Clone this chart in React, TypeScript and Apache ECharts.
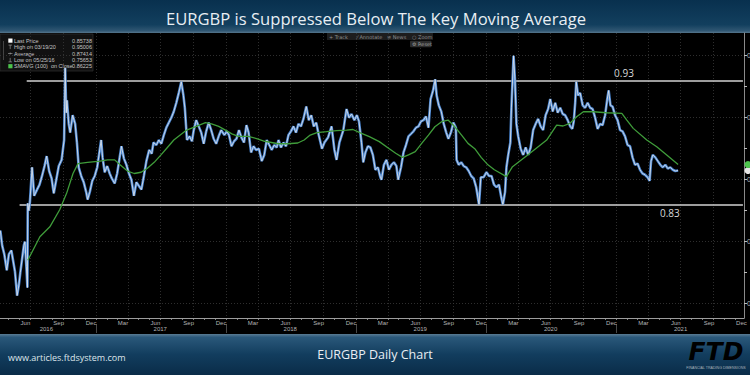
import React, { useEffect, useRef } from "react";
import * as echarts from "echarts";

const TITLE = "EURGBP is Suppressed Below The Key Moving Average";
const SUBTITLE = "EURGBP Daily Chart";
const SITE = "www.articles.ftdsystem.com";

const AXIS_START = "2016-04-07";
const AXIS_END = "2021-12-26";
const Y_MIN = 0.73847;
const Y_MAX = 0.96831;

const MONTHS = ["Jan", "Feb", "Mar", "Apr", "May", "Jun", "Jul", "Aug", "Sep", "Oct", "Nov", "Dec"];
const LABEL_MONTHS = ["03", "06", "09", "12"];
const GRID_MONTHS = ["01", "04", "07", "10"];
const YEAR_LABEL_DATES = ["2016-08-15", "2017-07-01", "2018-07-01", "2019-07-01", "2020-07-01", "2021-07-01"];
const Y_TICKS = [0.75, 0.775, 0.8, 0.825, 0.85, 0.875, 0.9, 0.925, 0.95];
const Y_LABELS = [0.75, 0.8, 0.85, 0.9, 0.95];

const LEVEL_HIGH = 0.93;
const LEVEL_LOW = 0.83;
const LEVEL_HIGH_START = "2016-06-21";
const LEVEL_LOW_START = "2016-06-01";
const LEVEL_END = "2021-12-23";
const LEVEL_HIGH_LABEL_AT = "2021-01-23";
const LEVEL_LOW_LABEL_AT = "2021-06-01";

const LAST_PRICE = 0.85738;
const LAST_SMA = 0.86225;

const LEGEND_ROWS = [
  { label: "Last Price", value: "0.85738", icon: "box", color: "#ffffff" },
  { label: "High on 03/19/20", value: "0.95006", icon: "high", color: "#bbbbbb" },
  { label: "Average", value: "0.87414", icon: "avg", color: "#bbbbbb" },
  { label: "Low on 05/25/16", value: "0.75653", icon: "low", color: "#bbbbbb" },
  { label: "SMAVG (100)  on Close", value: "0.86225", icon: "box", color: "#4cc34c" },
];

const TOOLBAR = ["+ Track", "\u2044 Annotate", "\u2261 News", "\u25cb Zoom"];

const price2016: [string, number][] = [
  ["2016-04-08", 0.809], ["2016-04-13", 0.797], ["2016-04-19", 0.79], ["2016-04-26", 0.777],
  ["2016-05-02", 0.79], ["2016-05-09", 0.793], ["2016-05-13", 0.786], ["2016-05-19", 0.776],
  ["2016-05-25", 0.7565], ["2016-05-30", 0.765], ["2016-06-03", 0.775], ["2016-06-08", 0.786],
  ["2016-06-13", 0.797], ["2016-06-16", 0.8], ["2016-06-20", 0.78], ["2016-06-23", 0.763],
  ["2016-06-24", 0.831], ["2016-06-27", 0.825], ["2016-06-30", 0.832], ["2016-07-06", 0.86],
  ["2016-07-12", 0.837], ["2016-07-20", 0.842], ["2016-07-27", 0.846], ["2016-08-03", 0.853],
  ["2016-08-10", 0.861], ["2016-08-16", 0.869], ["2016-08-23", 0.857], ["2016-08-30", 0.851],
  ["2016-09-05", 0.839], ["2016-09-12", 0.85], ["2016-09-19", 0.861], ["2016-09-27", 0.866],
  ["2016-10-04", 0.882], ["2016-10-07", 0.94], ["2016-10-10", 0.904], ["2016-10-12", 0.914],
  ["2016-10-17", 0.895], ["2016-10-21", 0.888], ["2016-10-28", 0.902], ["2016-11-04", 0.895],
  ["2016-11-09", 0.88], ["2016-11-14", 0.86], ["2016-11-21", 0.853], ["2016-11-28", 0.848],
  ["2016-12-05", 0.84], ["2016-12-09", 0.834], ["2016-12-15", 0.84], ["2016-12-22", 0.849],
  ["2016-12-29", 0.853],
];
const price2017: [string, number][] = [
  ["2017-01-05", 0.86], ["2017-01-10", 0.87], ["2017-01-16", 0.882], ["2017-01-20", 0.868],
  ["2017-01-26", 0.856], ["2017-02-02", 0.861], ["2017-02-09", 0.855], ["2017-02-15", 0.851],
  ["2017-02-23", 0.847], ["2017-03-02", 0.855], ["2017-03-09", 0.868], ["2017-03-14", 0.877],
  ["2017-03-21", 0.867], ["2017-03-28", 0.862], ["2017-04-04", 0.855], ["2017-04-11", 0.85],
  ["2017-04-18", 0.837], ["2017-04-25", 0.848], ["2017-05-02", 0.845], ["2017-05-09", 0.842],
  ["2017-05-16", 0.853], ["2017-05-23", 0.865], ["2017-05-31", 0.874], ["2017-06-07", 0.871],
  ["2017-06-12", 0.88], ["2017-06-20", 0.878], ["2017-06-27", 0.882], ["2017-07-04", 0.879],
  ["2017-07-11", 0.886], ["2017-07-18", 0.892], ["2017-07-25", 0.896], ["2017-08-01", 0.9],
  ["2017-08-08", 0.905], ["2017-08-15", 0.912], ["2017-08-22", 0.92], ["2017-08-29", 0.929],
  ["2017-09-04", 0.918], ["2017-09-08", 0.908], ["2017-09-14", 0.882], ["2017-09-21", 0.885],
  ["2017-09-28", 0.881], ["2017-10-03", 0.89], ["2017-10-10", 0.898], ["2017-10-17", 0.893],
  ["2017-10-24", 0.888], ["2017-10-31", 0.879], ["2017-11-07", 0.889], ["2017-11-14", 0.896],
  ["2017-11-21", 0.89], ["2017-11-28", 0.883], ["2017-12-05", 0.879], ["2017-12-12", 0.885],
  ["2017-12-19", 0.89], ["2017-12-28", 0.886],
];
const price2018: [string, number][] = [
  ["2018-01-04", 0.889], ["2018-01-10", 0.886], ["2018-01-17", 0.877], ["2018-01-24", 0.881],
  ["2018-01-31", 0.883], ["2018-02-07", 0.89], ["2018-02-14", 0.884], ["2018-02-21", 0.88],
  ["2018-02-28", 0.894], ["2018-03-06", 0.888], ["2018-03-13", 0.872], ["2018-03-20", 0.877],
  ["2018-03-27", 0.874], ["2018-04-04", 0.875], ["2018-04-12", 0.865], ["2018-04-19", 0.87],
  ["2018-04-26", 0.882], ["2018-05-03", 0.878], ["2018-05-10", 0.874], ["2018-05-17", 0.878],
  ["2018-05-24", 0.876], ["2018-05-29", 0.882], ["2018-06-05", 0.876], ["2018-06-12", 0.88],
  ["2018-06-19", 0.877], ["2018-06-26", 0.886], ["2018-07-03", 0.889], ["2018-07-10", 0.893],
  ["2018-07-17", 0.888], ["2018-07-24", 0.895], ["2018-07-31", 0.893], ["2018-08-07", 0.899],
  ["2018-08-15", 0.909], ["2018-08-22", 0.898], ["2018-08-29", 0.902], ["2018-09-05", 0.893],
  ["2018-09-12", 0.896], ["2018-09-19", 0.886], ["2018-09-28", 0.875], ["2018-10-05", 0.88],
  ["2018-10-15", 0.884], ["2018-10-25", 0.893], ["2018-11-02", 0.874], ["2018-11-08", 0.866],
  ["2018-11-16", 0.88], ["2018-11-27", 0.89], ["2018-12-06", 0.907], ["2018-12-13", 0.9],
  ["2018-12-20", 0.903], ["2018-12-28", 0.898],
];
const price2019: [string, number][] = [
  ["2019-01-04", 0.902], ["2019-01-10", 0.897], ["2019-01-17", 0.88], ["2019-01-22", 0.864],
  ["2019-01-28", 0.872], ["2019-02-04", 0.877], ["2019-02-11", 0.876], ["2019-02-18", 0.87],
  ["2019-02-25", 0.858], ["2019-03-04", 0.86], ["2019-03-11", 0.852], ["2019-03-14", 0.85],
  ["2019-03-21", 0.862], ["2019-03-28", 0.866], ["2019-04-04", 0.858], ["2019-04-11", 0.862],
  ["2019-04-18", 0.864], ["2019-04-25", 0.861], ["2019-04-30", 0.85], ["2019-05-08", 0.86],
  ["2019-05-15", 0.872], ["2019-05-22", 0.878], ["2019-05-29", 0.885], ["2019-06-05", 0.887],
  ["2019-06-12", 0.889], ["2019-06-19", 0.892], ["2019-06-26", 0.893], ["2019-07-03", 0.897],
  ["2019-07-10", 0.898], ["2019-07-17", 0.901], ["2019-07-24", 0.892], ["2019-07-30", 0.915],
  ["2019-08-06", 0.922], ["2019-08-12", 0.931], ["2019-08-16", 0.918], ["2019-08-22", 0.91],
  ["2019-08-29", 0.905], ["2019-09-05", 0.895], ["2019-09-12", 0.888], ["2019-09-18", 0.883],
  ["2019-09-25", 0.888], ["2019-10-02", 0.896], ["2019-10-09", 0.892], ["2019-10-11", 0.866],
  ["2019-10-17", 0.862], ["2019-10-24", 0.864], ["2019-10-31", 0.861], ["2019-11-07", 0.86],
  ["2019-11-14", 0.857], ["2019-11-21", 0.853], ["2019-11-28", 0.851], ["2019-12-05", 0.844],
  ["2019-12-13", 0.83], ["2019-12-18", 0.852], ["2019-12-26", 0.852],
];
const price2020: [string, number][] = [
  ["2020-01-03", 0.856], ["2020-01-10", 0.853], ["2020-01-17", 0.853], ["2020-01-24", 0.846],
  ["2020-01-31", 0.844], ["2020-02-07", 0.846], ["2020-02-14", 0.835], ["2020-02-18", 0.83],
  ["2020-02-24", 0.84], ["2020-02-28", 0.86], ["2020-03-04", 0.87], ["2020-03-10", 0.88],
  ["2020-03-13", 0.908], ["2020-03-19", 0.95], ["2020-03-23", 0.93], ["2020-03-27", 0.895],
  ["2020-04-01", 0.885], ["2020-04-08", 0.875], ["2020-04-15", 0.87], ["2020-04-22", 0.876],
  ["2020-04-29", 0.87], ["2020-05-06", 0.876], ["2020-05-13", 0.89], ["2020-05-20", 0.895],
  ["2020-05-27", 0.899], ["2020-06-03", 0.893], ["2020-06-10", 0.89], ["2020-06-17", 0.902],
  ["2020-06-24", 0.907], ["2020-06-30", 0.915], ["2020-07-07", 0.905], ["2020-07-14", 0.912],
  ["2020-07-21", 0.904], ["2020-07-28", 0.908], ["2020-08-04", 0.903], ["2020-08-11", 0.902],
  ["2020-08-18", 0.898], ["2020-08-25", 0.893], ["2020-08-31", 0.891], ["2020-09-04", 0.897],
  ["2020-09-08", 0.912], ["2020-09-11", 0.929], ["2020-09-16", 0.918], ["2020-09-22", 0.92],
  ["2020-09-29", 0.91], ["2020-10-06", 0.908], ["2020-10-13", 0.912], ["2020-10-20", 0.908],
  ["2020-10-27", 0.907], ["2020-11-03", 0.9], ["2020-11-10", 0.891], ["2020-11-17", 0.895],
  ["2020-11-24", 0.894], ["2020-12-01", 0.902], ["2020-12-07", 0.915], ["2020-12-11", 0.922],
  ["2020-12-16", 0.91], ["2020-12-22", 0.909], ["2020-12-29", 0.902],
];
const price2021: [string, number][] = [
  ["2021-01-05", 0.898], ["2021-01-12", 0.89], ["2021-01-19", 0.889], ["2021-01-26", 0.885],
  ["2021-02-02", 0.878], ["2021-02-09", 0.877], ["2021-02-16", 0.868], ["2021-02-23", 0.862],
  ["2021-03-02", 0.863], ["2021-03-09", 0.858], ["2021-03-16", 0.855], ["2021-03-23", 0.854],
  ["2021-03-30", 0.852], ["2021-04-05", 0.849], ["2021-04-09", 0.865], ["2021-04-14", 0.87],
  ["2021-04-21", 0.868], ["2021-04-28", 0.865], ["2021-05-05", 0.862], ["2021-05-12", 0.86],
  ["2021-05-19", 0.862], ["2021-05-26", 0.859], ["2021-06-02", 0.86], ["2021-06-09", 0.858],
  ["2021-06-16", 0.857], ["2021-06-24", 0.85738],
];

const smaData: [string, number][] = [
  ["2016-06-24", 0.785], ["2016-07-28", 0.804], ["2016-08-25", 0.812], ["2016-09-22", 0.826],
  ["2016-10-11", 0.839], ["2016-10-29", 0.855], ["2016-11-12", 0.863], ["2016-12-09", 0.864],
  ["2017-01-13", 0.865], ["2017-02-03", 0.866], ["2017-02-23", 0.866], ["2017-03-10", 0.862],
  ["2017-03-31", 0.857], ["2017-04-19", 0.855], ["2017-05-08", 0.856], ["2017-05-25", 0.859],
  ["2017-06-14", 0.864], ["2017-07-03", 0.87], ["2017-07-21", 0.876], ["2017-08-08", 0.882],
  ["2017-08-26", 0.886], ["2017-09-13", 0.89], ["2017-10-10", 0.893], ["2017-11-05", 0.896],
  ["2017-11-22", 0.895], ["2017-12-12", 0.893], ["2017-12-31", 0.89], ["2018-01-18", 0.887],
  ["2018-02-05", 0.885], ["2018-03-05", 0.885], ["2018-03-31", 0.883], ["2018-04-20", 0.881],
  ["2018-05-28", 0.879], ["2018-06-24", 0.879], ["2018-07-22", 0.8796], ["2018-08-09", 0.882],
  ["2018-08-26", 0.886], ["2018-09-14", 0.888], ["2018-10-11", 0.8887], ["2018-11-08", 0.8895],
  ["2018-12-06", 0.89], ["2018-12-24", 0.8905], ["2019-01-12", 0.888], ["2019-02-08", 0.8847],
  ["2019-03-08", 0.8807], ["2019-04-03", 0.8753], ["2019-04-23", 0.8713], ["2019-05-12", 0.868],
  ["2019-05-29", 0.87], ["2019-06-17", 0.8726], ["2019-07-05", 0.8793], ["2019-07-24", 0.886],
  ["2019-08-11", 0.8927], ["2019-08-30", 0.8968], ["2019-09-17", 0.8981], ["2019-10-06", 0.8927],
  ["2019-10-25", 0.886], ["2019-11-12", 0.8793], ["2019-12-01", 0.875], ["2019-12-19", 0.868],
  ["2020-01-07", 0.862], ["2020-01-25", 0.858], ["2020-02-28", 0.8525], ["2020-03-16", 0.8605],
  ["2020-05-04", 0.8713], ["2020-06-20", 0.882], ["2020-07-18", 0.894], ["2020-08-05", 0.8933],
  ["2020-08-24", 0.8954], ["2020-09-12", 0.9008], ["2020-10-01", 0.9048], ["2020-10-29", 0.9048],
  ["2020-12-05", 0.904], ["2021-01-17", 0.9035], ["2021-01-31", 0.8981], ["2021-02-18", 0.8914],
  ["2021-03-28", 0.882], ["2021-04-25", 0.8766], ["2021-05-23", 0.87], ["2021-06-24", 0.86225],
];

const priceData = [...price2016, ...price2017, ...price2018, ...price2019, ...price2020, ...price2021];

function buildCategories(start: string, end: string): string[] {
  const out: string[] = [];
  const s = Date.parse(start + "T00:00:00Z");
  const e = Date.parse(end + "T00:00:00Z");
  for (let t = s; t <= e; t += 86400000) out.push(new Date(t).toISOString().slice(0, 10));
  return out;
}

const FONT = "Liberation Sans";

export default function App() {
  const ref = useRef<HTMLDivElement>(null);
  useEffect(() => {
    document.body.style.margin = "0";
    if (!ref.current) return;
    const chart = echarts.init(ref.current, null, { renderer: "svg" });
    const cats = buildCategories(AXIS_START, AXIS_END);

    const legendEls: any[] = [
      { type: "rect", shape: { x: 0, y: 34, width: 93, height: 37 }, style: { fill: "rgba(18,18,18,0.95)", stroke: "#2c2c2c", lineWidth: 0.8 } },
      { type: "line", shape: { x1: 3.5, y1: 41, x2: 3.5, y2: 60 }, style: { stroke: "#666", lineWidth: 0.6 } },
    ];
    LEGEND_ROWS.forEach((r, i) => {
      const y = 40.7 + i * 6.4;
      if (r.icon === "box") {
        legendEls.push({ type: "rect", shape: { x: 8.3, y: y - 2.2, width: 4.2, height: 4.2 }, style: { fill: r.color } });
      } else if (r.icon === "high") {
        legendEls.push({ type: "line", shape: { x1: 8.5, y1: y - 2, x2: 12, y2: y - 2 }, style: { stroke: "#aaa", lineWidth: 0.6 } });
        legendEls.push({ type: "line", shape: { x1: 10.2, y1: y - 2, x2: 10.2, y2: y + 2 }, style: { stroke: "#aaa", lineWidth: 0.6 } });
      } else if (r.icon === "avg") {
        legendEls.push({ type: "line", shape: { x1: 8, y1: y, x2: 12.5, y2: y }, style: { stroke: "#aaa", lineWidth: 0.6 } });
        legendEls.push({ type: "line", shape: { x1: 10.2, y1: y - 1, x2: 10.2, y2: y + 1 }, style: { stroke: "#aaa", lineWidth: 0.6 } });
      } else {
        legendEls.push({ type: "line", shape: { x1: 8.5, y1: y + 2, x2: 12, y2: y + 2 }, style: { stroke: "#aaa", lineWidth: 0.6 } });
        legendEls.push({ type: "line", shape: { x1: 10.2, y1: y - 2, x2: 10.2, y2: y + 2 }, style: { stroke: "#aaa", lineWidth: 0.6 } });
      }
      legendEls.push({ type: "text", style: { x: 14, y, text: r.label, fill: "#c4c4c4", fontSize: 5.5, fontFamily: FONT, verticalAlign: "middle" } });
      legendEls.push({ type: "text", style: { x: 92, y, text: r.value, fill: "#c4c4c4", fontSize: 5.5, fontFamily: FONT, align: "right", verticalAlign: "middle" } });
    });

    const toolbarEls: any[] = [
      { type: "rect", shape: { x: 327, y: 33, width: 106, height: 7 }, style: { fill: "#1d1d1d" } },
      { type: "rect", shape: { x: 410, y: 40.8, width: 21.5, height: 6.4, r: 1 }, style: { fill: "#2d2d2d" } },
      { type: "text", style: { x: 412, y: 44, text: "\u2699 Reset", fill: "#a0a0a0", fontSize: 5, fontFamily: "DejaVu Sans", verticalAlign: "middle" } },
    ];
    const tbX = [329, 357, 387, 412];
    TOOLBAR.forEach((t, i) => {
      toolbarEls.push({ type: "text", style: { x: tbX[i], y: 36.6, text: t, fill: "#909090", fontSize: 5, fontFamily: "DejaVu Sans", verticalAlign: "middle" } });
    });

    const option: any = {
      animation: false,
      backgroundColor: "#000000",
      grid: { left: 0, right: 6, top: 33, bottom: 57, containLabel: false, outerBoundsMode: "none" },
      xAxis: [
        {
          type: "category",
          data: cats,
          boundaryGap: false,
          position: "bottom",
          axisLine: { show: true, lineStyle: { color: "#9c9c9c", width: 1 } },
          axisTick: {
            show: true,
            interval: (_i: number, v: string) => v.endsWith("-01"),
            length: 2,
            lineStyle: { color: "#9c9c9c", width: 0.8 },
          },
          axisLabel: {
            show: true,
            interval: (_i: number, v: string) => v.endsWith("-01") && LABEL_MONTHS.includes(v.slice(5, 7)),
            formatter: (v: string) => MONTHS[Number(v.slice(5, 7)) - 1],
            color: "#b4b4b4",
            fontSize: 6,
            fontFamily: FONT,
            align: "left",
            margin: 2,
            padding: [0, 0, 0, 1],
          },
          splitLine: {
            show: true,
            interval: (_i: number, v: string) => v.endsWith("-01") && GRID_MONTHS.includes(v.slice(5, 7)),
            lineStyle: { color: "#3a3a3a", width: 0.8, type: [1, 2] },
          },
        },
        {
          type: "category",
          data: cats,
          boundaryGap: false,
          position: "bottom",
          offset: 6,
          axisLine: { show: false },
          axisTick: {
            show: true,
            interval: (_i: number, v: string) => v.endsWith("-01-01"),
            length: 9,
            lineStyle: { color: "#5a5a5a", width: 0.8 },
          },
          axisLabel: {
            show: true,
            interval: (_i: number, v: string) => YEAR_LABEL_DATES.includes(v),
            formatter: (v: string) => v.slice(0, 4),
            color: "#b4b4b4",
            fontSize: 6,
            fontFamily: FONT,
            margin: 2,
          },
          splitLine: { show: false },
        },
      ],
      yAxis: {
        type: "value",
        position: "right",
        min: Y_MIN,
        max: Y_MAX,
        axisLine: { show: true, lineStyle: { color: "#8a8a8a", width: 1 } },
        axisTick: { show: true, customValues: Y_TICKS, length: 3, lineStyle: { color: "#bbbbbb" } },
        axisLabel: { show: true, customValues: Y_LABELS, color: "#bbbbbb", fontSize: 7, fontFamily: FONT, margin: 3, formatter: (v: number) => v.toFixed(2) },
        splitLine: { show: false },
      },
      series: [
        {
          type: "line",
          name: "grid",
          data: [],
          silent: true,
          markLine: {
            silent: true,
            symbol: "none",
            label: { show: false },
            lineStyle: { color: "#3a3a3a", width: 0.8, type: [1, 2] },
            data: Y_LABELS.map((v) => ({ yAxis: v })),
          },
        },
        {
          type: "line",
          name: "Last Price",
          data: priceData,
          symbol: "none",
          z: 10,
          lineStyle: { color: "#4a86d2", width: 2.6 },
          markLine: {
            silent: true,
            symbol: "none",
            label: { show: false },
            lineStyle: { color: "#d2d2d2", width: 1.6, type: "solid" },
            data: [
              [{ coord: [LEVEL_HIGH_START, LEVEL_HIGH] }, { coord: [LEVEL_END, LEVEL_HIGH] }],
              [{ coord: [LEVEL_LOW_START, LEVEL_LOW] }, { coord: [LEVEL_END, LEVEL_LOW] }],
            ],
          },
          markPoint: {
            silent: true,
            data: [
              {
                coord: [LEVEL_HIGH_LABEL_AT, LEVEL_HIGH],
                symbol: "rect",
                symbolSize: 1,
                itemStyle: { color: "rgba(0,0,0,0)" },
                label: { show: true, position: "top", distance: 2, formatter: LEVEL_HIGH.toFixed(2), color: "#d8d8d8", fontSize: 10, fontFamily: "Open Sans" },
              },
              {
                coord: [LEVEL_LOW_LABEL_AT, LEVEL_LOW],
                symbol: "rect",
                symbolSize: 1,
                itemStyle: { color: "rgba(0,0,0,0)" },
                label: { show: true, position: "bottom", distance: 3, formatter: LEVEL_LOW.toFixed(2), color: "#d8d8d8", fontSize: 10, fontFamily: "Open Sans" },
              },
              {
                coord: [AXIS_END, LAST_PRICE],
                symbol: "circle",
                symbolSize: 7,
                symbolOffset: [4, 0],
                itemStyle: { color: "#e6e6e6" },
                label: { show: false },
              },
            ],
          },
        },
        {
          type: "line",
          name: "Last Price hi",
          data: priceData,
          symbol: "none",
          z: 11,
          silent: true,
          lineStyle: { color: "#e8e8e8", width: 1, opacity: 0.8 },
        },
        {
          type: "line",
          name: "SMAVG (100) on Close",
          data: smaData,
          symbol: "none",
          z: 12,
          lineStyle: { color: "#3f9c3a", width: 1.3 },
          markPoint: {
            silent: true,
            data: [
              {
                coord: [AXIS_END, LAST_SMA],
                symbol: "circle",
                symbolSize: 7,
                symbolOffset: [4, 0],
                itemStyle: { color: "#4cc34c" },
                label: { show: false },
              },
            ],
          },
        },
      ],
      graphic: [
        {
          type: "rect",
          shape: { x: 0, y: 0, width: 750, height: 33 },
          style: {
            fill: new echarts.graphic.LinearGradient(0, 0, 0, 1, [
              { offset: 0, color: "#08304e" },
              { offset: 0.75, color: "#123f5e" },
              { offset: 0.93, color: "#2f5672" },
              { offset: 1, color: "#56768c" },
            ]),
          },
        },
        {
          type: "text",
          style: { x: 376, y: 18, text: TITLE, fill: "#e8eef3", fontSize: 16.6, fontFamily: "Open Sans", align: "center", verticalAlign: "middle" },
        },
        {
          type: "rect",
          shape: { x: 0, y: 334, width: 750, height: 41 },
          style: {
            fill: new echarts.graphic.LinearGradient(0, 0, 0, 1, [
              { offset: 0, color: "#5a7c94" },
              { offset: 0.08, color: "#2a587a" },
              { offset: 0.5, color: "#123d5e" },
              { offset: 1, color: "#0a2c48" },
            ]),
          },
        },
        {
          type: "text",
          style: { x: 8, y: 357, text: SITE, fill: "#dde5ea", fontSize: 9, fontFamily: "Open Sans", verticalAlign: "middle" },
        },
        {
          type: "text",
          style: { x: 375, y: 354, text: SUBTITLE, fill: "#e8eef3", fontSize: 12.5, fontFamily: "Open Sans", align: "center", verticalAlign: "middle" },
        },
        {
          type: "text",
          style: {
            x: 716, y: 351, text: "FTD", fontSize: 25, fontWeight: "bold", fontStyle: "italic", fontFamily: "DejaVu Sans",
            align: "center", verticalAlign: "middle",
            fill: new echarts.graphic.LinearGradient(0, 0, 0, 1, [
              { offset: 0, color: "#f2f4f6" },
              { offset: 1, color: "#9aa6b0" },
            ]),
          },
        },
        {
          type: "text",
          style: { x: 716, y: 368, text: "FINANCIAL TRADING DIMENSIONS", fill: "#aab4bc", fontSize: 3.6, fontFamily: FONT, align: "center", verticalAlign: "middle" },
        },
        ...legendEls,
        ...toolbarEls,
      ],
    };
    chart.setOption(option);
    return () => chart.dispose();
  }, []);
  return <div ref={ref} style={{ position: "fixed", left: 0, top: 0, width: 750, height: 375 }} />;
}
